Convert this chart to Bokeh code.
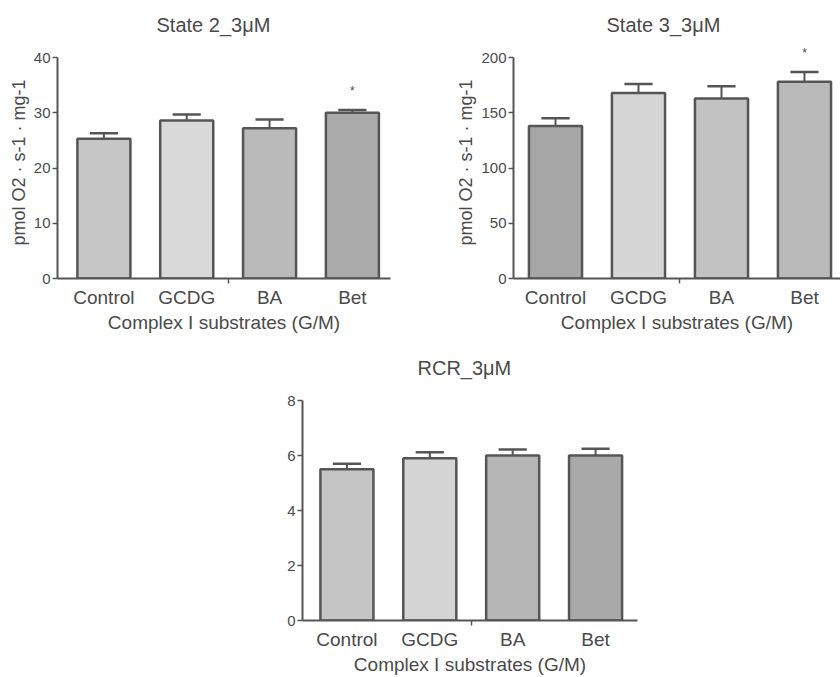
from bokeh.plotting import figure
from bokeh.layouts import column, row
from bokeh.models import Spacer, FixedTicker, Range1d, Label
from bokeh.embed import file_html
from bokeh.resources import INLINE

# ---------------- data ----------------
categories = ["Control", "GCDG", "BA", "Bet"]
x_label = "Complex I substrates (G/M)"
y_label = "pmol O2 \u00b7 s-1 \u00b7 mg-1"

state2_title = "State 2_3\u03bcM"
state2_mean = [25.3, 28.6, 27.2, 30.0]
state2_err = [1.0, 1.1, 1.6, 0.5]
state2_sig = ["", "", "", "*"]
state2_ticks = [0, 10, 20, 30, 40]
state2_colors = ["#c6c6c6", "#d9d9d9", "#bababa", "#ababab"]

state3_title = "State 3_3\u03bcM"
state3_mean = [138, 168, 163, 178]
state3_err = [7, 8, 11, 9]
state3_sig = ["", "", "", "*"]
state3_ticks = [0, 50, 100, 150, 200]
state3_colors = ["#a6a6a6", "#d6d6d6", "#c2c2c2", "#bababa"]

rcr_title = "RCR_3\u03bcM"
rcr_mean = [5.5, 5.9, 6.0, 6.0]
rcr_err = [0.2, 0.22, 0.22, 0.25]
rcr_sig = ["", "", "", ""]
rcr_ticks = [0, 2, 4, 6, 8]
rcr_colors = ["#c5c5c5", "#d4d4d4", "#b6b6b6", "#a9a9a9"]

FONT = "Liberation Sans"
TXT = "#4a4a4a"
LINE = "#555555"
BG = "#ffffff"


def make_panel(title, means, errs, sig, ticks, colors, width, height,
               borders, x_rng, title_offset, ylabel=True):
    ymax = ticks[-1]
    xs = list(range(len(categories)))
    p = figure(width=width, height=height, output_backend="svg",
               toolbar_location=None, x_range=Range1d(*x_rng),
               y_range=Range1d(0, ymax * 1.05), title=title,
               min_border_left=borders[0], min_border_right=borders[1],
               min_border_top=borders[2], min_border_bottom=borders[3])
    p.title.align = "left"
    p.title.offset = title_offset
    p.title.standoff = 22
    p.title.text_font = FONT
    p.title.text_font_size = "20px"
    p.title.text_font_style = "normal"
    p.title.text_color = TXT
    p.background_fill_color = BG
    p.border_fill_color = BG
    p.outline_line_color = None
    p.xgrid.visible = False
    p.ygrid.visible = False

    p.vbar(x=xs, top=means, bottom=0, width=0.64, fill_color=colors,
           line_color=LINE, line_width=2.5)
    tops = [m + e for m, e in zip(means, errs)]
    p.segment(x0=xs, y0=means, x1=xs, y1=tops, line_color=LINE, line_width=2)
    p.segment(x0=[x - 0.17 for x in xs], y0=tops,
              x1=[x + 0.17 for x in xs], y1=tops,
              line_color=LINE, line_width=2.5)
    for x, t, s in zip(xs, tops, sig):
        if s:
            p.add_layout(Label(x=x, y=t + 0.085 * ymax, text=s,
                               text_align="center", text_baseline="middle",
                               text_font=FONT, text_font_size="12px",
                               text_color=TXT))

    xa = p.xaxis[0]
    xa.ticker = FixedTicker(ticks=xs, minor_ticks=[1.5])
    xa.major_label_overrides = {i: c for i, c in enumerate(categories)}
    xa.major_tick_out = 0
    xa.major_tick_in = 0
    xa.minor_tick_out = 5
    xa.minor_tick_in = 0
    xa.axis_line_width = 2
    xa.axis_line_color = LINE
    xa.minor_tick_line_color = LINE
    xa.minor_tick_line_width = 1.5
    xa.major_label_text_font = FONT
    xa.major_label_text_font_size = "19px"
    xa.major_label_text_color = TXT
    xa.major_label_standoff = 3
    xa.axis_label = x_label
    xa.axis_label_text_font = FONT
    xa.axis_label_text_font_size = "19px"
    xa.axis_label_text_font_style = "normal"
    xa.axis_label_text_color = TXT
    xa.axis_label_standoff = 1

    ya = p.yaxis[0]
    ya.bounds = (0, ymax)
    ya.ticker = FixedTicker(ticks=ticks, minor_ticks=[])
    ya.major_tick_out = 5
    ya.major_tick_in = 0
    ya.major_tick_line_color = LINE
    ya.major_tick_line_width = 1.5
    ya.axis_line_width = 2
    ya.axis_line_color = LINE
    ya.major_label_text_font = FONT
    ya.major_label_text_font_size = "15px"
    ya.major_label_text_color = TXT
    ya.major_label_standoff = 2
    if ylabel:
        ya.axis_label = y_label
        ya.axis_label_text_font = FONT
        ya.axis_label_text_font_size = "18px"
        ya.axis_label_text_font_style = "normal"
        ya.axis_label_text_color = TXT
        ya.axis_label_standoff = 2
    return p


p1 = make_panel(state2_title, state2_mean, state2_err, state2_sig,
                state2_ticks, state2_colors, 450, 340,
                (57, 60, 46, 60), (-0.56, 3.46), 99)
p2 = make_panel(state3_title, state3_mean, state3_err, state3_sig,
                state3_ticks, state3_colors, 390, 340,
                (63, 0, 46, 62), (-0.506, 3.434), 93)
p3 = make_panel(rcr_title, rcr_mean, rcr_err, rcr_sig,
                rcr_ticks, rcr_colors, 440, 337,
                (62, 43, 49, 53), (-0.536, 3.506), 115, ylabel=False)

layout = column(row(p1, p2), row(Spacer(width=240, height=337), p3))

open("out.html", "w").write(file_html(layout, INLINE))
